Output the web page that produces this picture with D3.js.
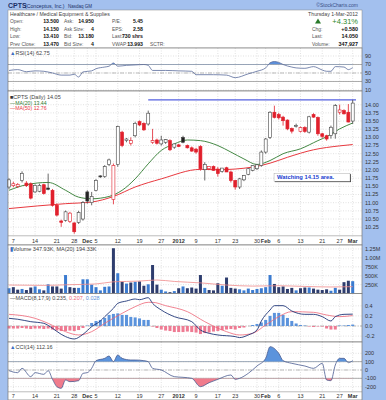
<!DOCTYPE html>
<html>
<head>
<meta charset="utf-8">
<script src="https://cdn.jsdelivr.net/npm/d3@7"></script>
<style>
  body { margin: 0; background: #a3c0ee; }
  svg { display: block; font-family: "Liberation Sans", Arial, sans-serif; }
</style>
</head>
<body>
<svg id="chart" width="386" height="400"></svg>
<script>
// trading days, Nov 4 2011 .. Mar 1 2012
const days = ["11-04","11-07","11-08","11-09","11-10","11-11","11-14","11-15","11-16","11-17",
  "11-18","11-21","11-22","11-23","11-25","11-28","11-29","11-30","12-01","12-02",
  "12-05","12-06","12-07","12-08","12-09","12-12","12-13","12-14","12-15","12-16",
  "12-19","12-20","12-21","12-22","12-23","12-27","12-28","12-29","12-30","01-03",
  "01-04","01-05","01-06","01-09","01-10","01-11","01-12","01-13","01-17","01-18",
  "01-19","01-20","01-23","01-24","01-25","01-26","01-27","01-30","01-31","02-01",
  "02-02","02-03","02-06","02-07","02-08","02-09","02-10","02-13","02-14","02-15",
  "02-16","02-17","02-21","02-22","02-23","02-24","02-27","02-28","02-29","03-01"];

const open = [11.48,11.52,11.50,11.68,11.60,11.58,11.33,11.35,11.55,11.45,
  11.38,10.92,10.44,10.46,10.42,10.38,10.40,10.50,11.33,11.00,
  11.38,11.82,11.80,12.17,11.10,12.17,13.16,12.90,12.82,13.05,
  13.48,13.43,13.41,12.85,12.92,12.80,12.85,12.90,12.70,12.77,
  13.00,12.75,12.68,12.64,12.72,12.01,12.04,12.11,12.03,11.96,
  12.07,11.94,11.68,11.48,11.70,11.87,11.99,12.04,12.14,12.55,
  13.00,13.77,13.70,13.62,13.53,13.27,13.35,13.18,13.30,13.16,
  13.70,13.61,13.11,13.05,13.06,13.11,13.77,13.82,13.77,13.50];
const high = [11.75,11.64,11.60,11.96,11.66,11.62,11.56,11.58,11.58,11.89,
  11.42,10.98,10.48,10.76,10.72,10.40,10.75,11.05,11.38,11.33,
  11.72,11.84,12.15,12.35,12.20,13.36,13.20,12.98,13.00,13.48,
  13.52,13.46,13.82,13.26,12.96,13.05,12.95,12.94,12.80,12.80,
  13.05,12.78,12.72,12.68,12.76,12.24,12.12,12.14,12.09,12.06,
  12.10,11.98,11.70,11.76,11.85,12.06,12.15,12.18,12.60,12.98,
  13.80,13.97,13.75,13.66,13.55,13.30,13.42,13.33,13.34,13.66,
  13.74,13.64,13.14,13.08,13.36,14.02,14.00,13.86,14.02,14.15];
const low = [11.42,11.47,11.45,11.62,11.48,11.10,11.30,11.32,11.25,11.38,
  10.88,10.58,10.26,10.42,10.38,10.05,10.35,10.45,10.97,10.92,
  11.35,11.76,11.76,12.12,10.95,12.10,12.70,12.85,12.75,13.00,
  13.35,13.20,13.36,12.80,12.78,12.75,12.80,12.58,12.65,12.70,
  12.82,12.66,12.56,12.50,11.98,11.68,12.00,11.98,11.80,11.92,
  11.94,11.62,11.40,11.42,11.66,11.84,11.96,12.00,12.10,12.50,
  12.95,13.58,13.55,13.36,13.22,13.12,13.30,13.15,13.14,13.12,
  13.60,13.05,12.98,12.90,12.96,12.96,13.70,13.70,13.46,13.41];
const close = [11.70,11.58,11.56,11.90,11.52,11.14,11.53,11.53,11.28,11.41,
  10.92,10.62,10.40,10.72,10.68,10.11,10.70,11.00,11.05,11.19,
  11.68,11.79,12.11,12.31,12.14,13.33,12.75,12.95,12.90,13.43,
  13.38,13.23,13.74,12.90,12.82,12.92,12.93,12.62,12.80,12.72,
  12.85,12.68,12.58,12.55,12.04,12.17,12.11,11.99,11.89,12.06,
  11.94,11.68,11.48,11.73,11.83,12.04,12.14,12.16,12.55,12.95,
  13.77,13.61,13.60,13.51,13.26,13.19,13.36,13.30,13.18,13.63,
  13.62,13.11,13.03,12.95,13.31,13.97,13.84,13.72,13.47,14.05];

// volume in thousands of shares
const volume = [150,180,110,130,100,170,200,120,90,260,
  200,200,140,520,180,160,160,400,400,250,
  180,90,190,200,1270,570,330,280,310,330,
  340,220,260,800,250,110,60,40,70,150,
  200,150,170,140,520,160,100,90,290,220,
  450,160,140,120,90,140,100,130,150,180,
  520,270,180,200,130,160,90,150,170,170,
  140,110,100,120,80,160,110,320,360,348];

// lines: [day index, value]
const ma20 = [[0,11.38],[4,11.55],[9,11.62],[13,11.38],[16,11.17],[19,11.12],[23,11.19],[26,11.38],
  [29,11.73],[32,12.19],[35,12.60],[38,12.80],[41,12.92],[44,12.90],[48,12.75],[51,12.55],
  [54,12.34],[57,12.17],[60,12.29],[63,12.50],[67,12.65],[71,12.90],[73,13.02],[76,13.26],[79,13.44]];
const ma50 = [[0,10.82],[13,10.97],[19,11.02],[24,11.19],[29,11.48],[35,11.73],[44,12.02],[48,12.01],
  [56,12.09],[60,12.21],[64,12.39],[70,12.62],[76,12.74],[79,12.78]];
const volMa = [[0,240],[8,230],[14,250],[20,270],[24,330],[30,350],[34,380],[38,340],[44,300],
  [50,240],[56,210],[62,220],[68,200],[74,185],[79,194]];
const rsi = [[0,55.9],[2,58],[4,53],[6,55],[8,54],[10,50],[12,45],[14,45],[15,47],[16,40.5],[17,52.5],
  [19,55],[20,60],[22,64],[23,66],[24,73.5],[25,66],[27,68],[29,69],[31,70],[32,68],[33,56],[36,56],
  [39,55],[42,54],[43,46],[47,46],[50,45],[52,39],[55,48],[57,54],[59,62],[60,74],[61,77],[62,75],
  [63,70],[65,64],[66,62],[68,61],[70,65],[72,57],[73,54],[74,54],[75,65],[77,64],[78,58],[79,62.75]];
const macd = [[0,.152],[2,.134],[5,.086],[8,.053],[10,-.046],[12,-.165],[13,-.21],[15,-.257],[17,-.165],
  [19,-.013],[21,.099],[22,.185],[24,.35],[25,.449],[27,.495],[29,.535],[30,.521],[32,.561],[33,.449],
  [35,.317],[38,.185],[42,.086],[44,-.079],[46,-.145],[48,-.178],[52,-.21],[53,-.23],[55,-.178],
  [57,-.079],[58,.099],[60,.317],[61,.403],[63,.403],[65,.297],[68,.231],[70,.231],[72,.185],
  [74,.099],[75,.185],[77,.231],[79,.235]];
const signal = [[0,.231],[6,.152],[9,.053],[13,-.112],[16,-.178],[19,-.112],[22,.053],[26,.251],
  [29,.383],[32,.469],[33,.469],[36,.403],[41,.284],[45,.086],[50,-.112],[53,-.178],[56,-.145],
  [59,.02],[62,.185],[65,.284],[70,.271],[73,.218],[76,.185],[79,.207]];
const hist = [-.05,-.05,-.05,-.04,-.05,-.06,-.05,-.05,-.06,-.05,
  -.07,-.09,-.10,-.10,-.09,-.10,-.08,-.04,.01,.06,
  .10,.12,.16,.22,.24,.25,.22,.22,.18,.17,
  .15,.12,.12,-.01,-.04,-.07,-.09,-.10,-.12,-.12,
  -.12,-.11,-.12,-.13,-.16,-.14,-.13,-.11,-.10,-.08,
  -.07,-.06,-.07,-.04,-.03,0,.02,.04,.07,.12,
  .20,.26,.26,.22,.16,.10,.05,.02,.01,-.01,
  -.02,-.01,-.01,-.05,-.07,-.07,.01,.01,.02,.028];
const cci = [[0,-8],[2,-32],[3,20],[5,-80],[6,-32],[8,-52],[9,-8],[10,-112],[11,-200],[12,-220],
  [13,-120],[14,-140],[16,-128],[17,-40],[18,-32],[19,20],[20,112],[22,140],[23,168],[24,100],
  [25,180],[26,140],[28,120],[29,120],[31,112],[32,100],[33,20],[35,0],[38,-80],[40,-88],[42,-100],
  [44,-200],[46,-152],[48,-112],[51,-60],[52,-112],[53,-100],[55,-40],[57,48],[59,140],[60,280],
  [62,200],[63,112],[65,80],[68,48],[70,20],[72,80],[73,-120],[74,-128],[75,60],[76,140],[77,140],
  [78,88],[79,112]];

const tickDays = ["11-07","11-14","11-21","11-28","12-01","12-05","12-12","12-19","12-27","01-03",
  "01-09","01-17","01-23","01-30","02-01","02-06","02-13","02-21","02-27","03-01"];
const tickText = ["7","14","21","28","Dec","5","12","19","27","2012","9","17","23","30","Feb","6","13","21","27","Mar"];
const monthTicks = ["Dec","2012","Feb","Mar"];

const priceTicks = [10.25,10.5,10.75,11,11.25,11.5,11.75,12,12.25,12.5,12.75,13,13.25,13.5,13.75,14];
const rsiTicks = [10,30,50,70,90];
const volTicks = [250,500,750,1000,1250];
const volTickText = ["250K","500K","750K","1.00M","1.25M"];
const macdTicks = [-0.2,0,0.2,0.4];
const cciTicks = [-200,-100,0,100,200];

const infoLabels = [["Open:","High:","Low:","Prev Close:"],["Ask:","Ask Size:","Bid:","Bid Size:"],["P/E:","EPS:","Last:","VWAP:"]];
const infoValues = [["13.500","14.150","13.410","13.470"],["14.950","4","13.180","4"],["5.45","2.58","730 shrs","13.993"]];
const quoteLabels = ["Chg:","Last:","Volume:"];
const quoteValues = ["+0.580","14.050","347,927"];

const svg = d3.select("#chart");
const L = 8, R = 362;
const x = d3.scalePoint().domain(days).range([9, 352.7]);

const yR = d3.scaleLinear().domain([7.6, 106.5]).range([91, 49]);
const yP = d3.scaleLinear().domain([9.98, 14.42]).range([236, 91]);
const yV = d3.scaleLinear().domain([0, 1360]).range([293.6, 245]);
const yM = d3.scaleLinear().domain([-0.317, 0.634]).range([342, 294]);
const yC = d3.scaleLinear().domain([-264, 324]).range([392, 343]);

// header
svg.append("text").attr("x", 8).attr("y", 8).attr("font-size", 7).attr("font-weight", "bold")
  .attr("fill", "#1b2f66").text("CPTS");
svg.append("text").attr("x", 25).attr("y", 8).attr("font-size", 5.2).attr("fill", "#1b2f66")
  .text("(Conceptus, Inc.)");
svg.append("text").attr("x", 68).attr("y", 8).attr("font-size", 4.5).attr("fill", "#1b2f66")
  .text("Nasdaq GM");
svg.append("text").attr("x", 358).attr("y", 6.5).attr("font-size", 5).attr("text-anchor", "end")
  .attr("fill", "#3a4f86").text("©StockCharts.com");

// info box
svg.append("rect").attr("x", L).attr("y", 10).attr("width", R - L).attr("height", 38)
  .attr("fill", "#fff").attr("stroke", "#888").attr("stroke-width", 0.5);
svg.append("text").attr("x", 10).attr("y", 16).attr("font-size", 5.2).attr("fill", "#444")
  .text("Healthcare / Medical Equipment & Supplies");
const colLabelX = [10, 64, 112], colValX = [59, 94, 143];
const rowY = [23, 30.5, 38, 45.5];
infoLabels.forEach((col, c) => {
  col.forEach((t, r) => {
    svg.append("text").attr("x", colLabelX[c]).attr("y", rowY[r]).attr("font-size", 4.9)
      .attr("fill", "#555").text(t);
    svg.append("text").attr("x", colValX[c]).attr("y", rowY[r]).attr("font-size", 5.2)
      .attr("font-weight", "bold").attr("text-anchor", "end").attr("fill", "#111").text(infoValues[c][r]);
  });
});
svg.append("text").attr("x", 150).attr("y", 45.5).attr("font-size", 4.9).attr("fill", "#555").text("SCTR:");
svg.append("text").attr("x", 358).attr("y", 16).attr("font-size", 5.2).attr("text-anchor", "end")
  .attr("fill", "#444").text("Thursday 1-Mar-2012");
svg.append("path").attr("d", "M315,23.5 L318,18.5 L321,23.5 Z").attr("fill", "#2a7a2a");
svg.append("text").attr("x", 358).attr("y", 23.5).attr("font-size", 7.5).attr("text-anchor", "end")
  .attr("fill", "#2a8a2a").text("+4.31%");
quoteLabels.forEach((t, i) => {
  svg.append("text").attr("x", 312).attr("y", rowY[i + 1]).attr("font-size", 4.9).attr("fill", "#555").text(t);
  svg.append("text").attr("x", 358).attr("y", rowY[i + 1]).attr("font-size", 5.4).attr("font-weight", "bold")
    .attr("text-anchor", "end").attr("fill", "#111").text(quoteValues[i]);
});

// panel helper
function panel(top, bottom, y, ticks, fmt) {
  const g = svg.append("g");
  g.append("rect").attr("x", L).attr("y", top).attr("width", R - L).attr("height", bottom - top)
    .attr("fill", "#fff");
  g.selectAll("line.v").data(tickDays).join("line")
    .attr("x1", d => x(d)).attr("x2", d => x(d)).attr("y1", top).attr("y2", bottom)
    .attr("stroke", "#cfcfcf").attr("stroke-width", 0.6).attr("stroke-dasharray", "1,1.5");
  g.selectAll("line.h").data(ticks).join("line")
    .attr("x1", L).attr("x2", R).attr("y1", d => y(d)).attr("y2", d => y(d))
    .attr("stroke", "#cfcfcf").attr("stroke-width", 0.6).attr("stroke-dasharray", "1,1.5");
  svg.selectAll(null).data(ticks).join("text")
    .attr("x", R + 3).attr("y", d => y(d)).attr("dy", "0.35em").attr("font-size", 5.5)
    .attr("fill", "#333").text((d, i) => fmt(d, i));
  return g;
}
function border(top, bottom) {
  svg.append("rect").attr("x", L).attr("y", top).attr("width", R - L).attr("height", bottom - top)
    .attr("fill", "none").attr("stroke", "#777").attr("stroke-width", 0.7);
}
function refLine(y, v, dash, color) {
  svg.append("line").attr("x1", L).attr("x2", R).attr("y1", y(v)).attr("y2", y(v))
    .attr("stroke", color || "#999").attr("stroke-width", 0.8).attr("stroke-dasharray", dash || null);
}
function dateLabels(yy) {
  svg.selectAll(null).data(tickDays).join("text")
    .attr("x", d => x(d)).attr("y", yy).attr("text-anchor", "middle").attr("font-size", 5.5)
    .attr("font-weight", (d, i) => monthTicks.includes(tickText[i]) ? "bold" : "normal")
    .attr("fill", "#333").text((d, i) => tickText[i]);
}
const lineOf = y => d3.line().x(d => x(days[d[0]])).y(d => y(d[1])).curve(d3.curveMonotoneX);

function bandFill(y, data, level, above, color, top, bottom, id) {
  svg.append("clipPath").attr("id", id).append("rect")
    .attr("x", L).attr("width", R - L)
    .attr("y", above ? top : y(level)).attr("height", above ? y(level) - top : bottom - y(level));
  svg.append("path").datum(data).attr("clip-path", `url(#${id})`)
    .attr("d", d3.area().x(d => x(days[d[0]])).y0(y(level)).y1(d => y(d[1])).curve(d3.curveMonotoneX))
    .attr("fill", color);
}

// ---- RSI
panel(48, 91, yR, rsiTicks, d => d);
refLine(yR, 70); refLine(yR, 30); refLine(yR, 50, "4,1.5,1,1.5", "#aaa");
bandFill(yR, rsi, 70, true, "#5b8fdb", 48, 91, "rsiUp");
svg.append("path").datum(rsi).attr("d", lineOf(yR)).attr("fill", "none")
  .attr("stroke", "#5a6c9c").attr("stroke-width", 0.8);
svg.append("text").attr("x", 10).attr("y", 55).attr("font-size", 5.5).attr("fill", "#444")
  .html('<tspan fill="#3b6fc4">▲</tspan>RSI(14) 62.75');
border(48, 91);

// ---- Price
panel(91, 245, yP, priceTicks, d => d.toFixed(2));
svg.append("line").attr("x1", L).attr("x2", R).attr("y1", 236).attr("y2", 236).attr("stroke", "#777").attr("stroke-width", 0.7);
svg.append("rect").attr("x", L).attr("y", 236.4).attr("width", R - L).attr("height", 8.5).attr("fill", "#fff");
dateLabels(242.5);

// resistance line and note
svg.append("line").attr("x1", x(days[32])).attr("x2", R - 6).attr("y1", yP(14.15)).attr("y2", yP(14.15))
  .attr("stroke", "#5560e0").attr("stroke-width", 1.2);

svg.append("path").datum(ma50).attr("d", lineOf(yP)).attr("fill", "none").attr("stroke", "#e8393f").attr("stroke-width", 1);
svg.append("path").datum(ma20).attr("d", lineOf(yP)).attr("fill", "none").attr("stroke", "#2f7a2f").attr("stroke-width", 0.9);

const candles = days.map((d, i) => ({
  d, o: open[i], h: high[i], l: low[i], c: close[i],
  red: i > 0 ? close[i] < close[i - 1] : false
}));
const cg = svg.append("g");
cg.selectAll("line").data(candles).join("line")
  .attr("x1", c => x(c.d)).attr("x2", c => x(c.d))
  .attr("y1", c => yP(c.h)).attr("y2", c => yP(c.l))
  .attr("stroke", c => c.red ? "#e0202c" : "#444").attr("stroke-width", 0.8);
cg.selectAll("rect").data(candles).join("rect")
  .attr("x", c => x(c.d) - 1.5).attr("width", 3)
  .attr("y", c => yP(Math.max(c.o, c.c)))
  .attr("height", c => Math.max(0.8, Math.abs(yP(c.o) - yP(c.c))))
  .attr("fill", c => c.c >= c.o ? "#fff" : (c.red ? "#e0202c" : "#222"))
  .attr("stroke", c => c.red ? "#e0202c" : "#444").attr("stroke-width", 0.6);

const note = svg.append("g").attr("transform", `translate(${x(days[60]) + 4},${yP(11.9)})`);
note.append("rect").attr("x", 0.8).attr("y", 0.8).attr("width", 76).attr("height", 8).attr("fill", "#222");
note.append("rect").attr("width", 76).attr("height", 8).attr("fill", "#fff").attr("stroke", "#999").attr("stroke-width", 0.4);
note.append("text").attr("x", 3).attr("y", 6).attr("font-size", 5.8).attr("font-weight", "bold")
  .attr("fill", "#2040d0").text("Watching 14.15 area.");

svg.append("text").attr("x", 10).attr("y", 99).attr("font-size", 5.5).attr("fill", "#444")
  .html('<tspan fill="#333">■</tspan>CPTS (Daily) 14.05');
svg.append("text").attr("x", 10).attr("y", 104.5).attr("font-size", 5.2).attr("fill", "#2f7a2f").text("—MA(20) 13.44");
svg.append("text").attr("x", 10).attr("y", 110).attr("font-size", 5.2).attr("fill", "#e8393f").text("—MA(50) 12.76");
border(91, 245);

// ---- Volume
panel(245, 293.6, yV, volTicks, (d, i) => volTickText[i]);
svg.append("g").selectAll("rect").data(candles).join("rect")
  .attr("x", c => x(c.d) - 1.5).attr("width", 3)
  .attr("y", (c, i) => yV(volume[i])).attr("height", (c, i) => yV(0) - yV(volume[i]))
  .attr("fill", c => c.red ? "#2e3d6e" : "#3b7bd0");
svg.append("path").datum(volMa).attr("d", lineOf(yV)).attr("fill", "none").attr("stroke", "#f08a8a").attr("stroke-width", 0.8);
svg.append("text").attr("x", 10).attr("y", 251).attr("font-size", 5.5).attr("fill", "#444")
  .html('<tspan fill="#3b6fc4">▮</tspan>Volume 347.93K, MA(20) 194.33K');
border(245, 293.6);

// ---- MACD
panel(293.6, 342, yM, macdTicks, d => d.toFixed(1));
refLine(yM, 0, "4,1.5,1,1.5", "#aaa");
svg.append("g").selectAll("rect").data(hist).join("rect")
  .attr("x", (v, i) => x(days[i]) - 1.5).attr("width", 3)
  .attr("y", v => yM(Math.max(v, 0))).attr("height", v => Math.abs(yM(v) - yM(0)))
  .attr("fill", v => v >= 0 ? "#5b93dc" : "#ee7b93");
svg.append("path").datum(signal).attr("d", lineOf(yM)).attr("fill", "none").attr("stroke", "#ee6677").attr("stroke-width", 0.8);
svg.append("path").datum(macd).attr("d", lineOf(yM)).attr("fill", "none").attr("stroke", "#1f3577").attr("stroke-width", 0.9);
svg.append("text").attr("x", 10).attr("y", 299.5).attr("font-size", 5.5).attr("fill", "#444")
  .html('—MACD(8,17,9) 0.235, <tspan fill="#ee6677">0.207</tspan>, <tspan fill="#5b93dc">0.028</tspan>');
border(293.6, 342);

// ---- CCI
panel(342, 400, yC, cciTicks, d => d);
refLine(yC, 100); refLine(yC, -100); refLine(yC, 0, "4,1.5,1,1.5", "#aaa");
bandFill(yC, cci, 100, true, "#5b93dc", 342, 392, "cciUp");
bandFill(yC, cci, -100, false, "#f07b8c", 342, 392, "cciDn");
svg.append("path").datum(cci).attr("d", lineOf(yC)).attr("fill", "none").attr("stroke", "#4a5c90").attr("stroke-width", 0.8);
svg.append("line").attr("x1", L).attr("x2", R).attr("y1", 392).attr("y2", 392).attr("stroke", "#777").attr("stroke-width", 0.7);
svg.append("rect").attr("x", L).attr("y", 392.4).attr("width", R - L).attr("height", 7.6).attr("fill", "#fff");
dateLabels(398);
svg.append("text").attr("x", 10).attr("y", 349).attr("font-size", 5.5).attr("fill", "#444")
  .html('<tspan fill="#3b6fc4">▲</tspan>CCI(14) 112.16');
border(342, 400);
</script>
</body>
</html>
